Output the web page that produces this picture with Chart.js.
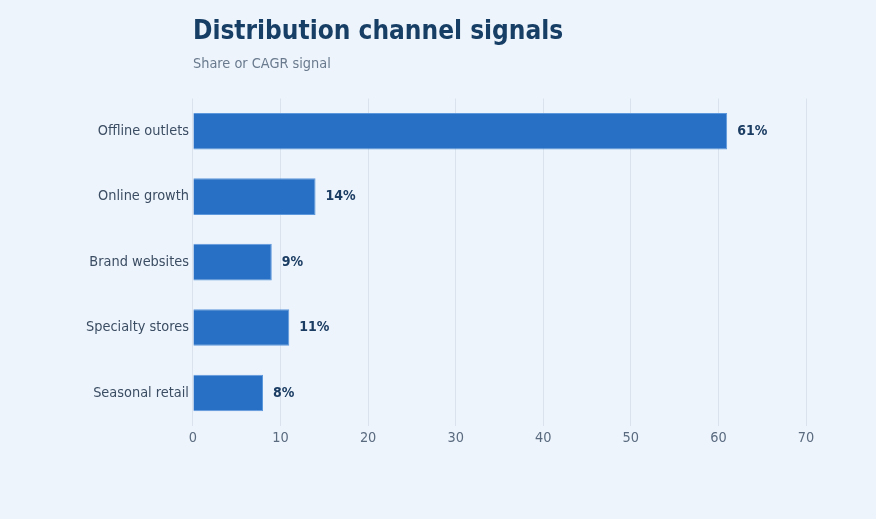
<!DOCTYPE html>
<html lang="en">
    <head>
        <meta charset="UTF-8">
        <title>Distribution channel signals</title>
        <script src="https://cdn.jsdelivr.net/npm/chart.js"></script>
        <style>
            body { margin: 0; background: #eef4fb; }
            #wrap { width: 876px; height: 519px; }
        </style>
    </head>
    <body>
        <div id="wrap"><canvas id="channelChart" width="876" height="519"></canvas></div>

        <script>
            const channels = ['Offline outlets', 'Online growth', 'Brand websites', 'Specialty stores', 'Seasonal retail'];
            const shareValues = [61, 14, 9, 11, 8];
            const valueLabels = ['61%', '14%', '9%', '11%', '8%'];

            const FONT = "'DejaVu Sans Condensed', 'DejaVu Sans', sans-serif";

            // value labels at the end of each bar
            const barLabels = {
                id: 'barLabels',
                afterDatasetsDraw(chart) {
                    const ctx = chart.ctx;
                    const meta = chart.getDatasetMeta(0);
                    ctx.save();
                    ctx.font = 'bold 14px ' + FONT;
                    ctx.fillStyle = '#1b3d63';
                    ctx.textAlign = 'left';
                    ctx.textBaseline = 'middle';
                    meta.data.forEach((bar, i) => {
                        ctx.fillText(valueLabels[i], bar.x + 10, bar.y);
                    });
                    ctx.restore();
                }
            };

            const ctx = document.getElementById('channelChart').getContext('2d');

            new Chart(ctx, {
                type: 'bar',
                data: {
                    labels: channels,
                    datasets: [{
                        data: shareValues,
                        backgroundColor: '#2870c5',
                        borderColor: '#5d98dc',
                        borderWidth: 1,
                        barPercentage: 0.56,
                        categoryPercentage: 1
                    }]
                },
                options: {
                    indexAxis: 'y',
                    responsive: false,
                    animation: false,
                    layout: { padding: { top: 17, right: 70, bottom: 68, left: 82 } },
                    plugins: {
                        legend: { display: false },
                        tooltip: { enabled: false },
                        title: {
                            display: true,
                            text: 'Distribution channel signals',
                            align: 'start',
                            fullSize: false,
                            color: '#173f66',
                            font: { family: FONT, size: 26, weight: 'bold' },
                            padding: { top: 0, bottom: 7 }
                        },
                        subtitle: {
                            display: true,
                            text: 'Share or CAGR signal',
                            align: 'start',
                            fullSize: false,
                            color: '#697a8e',
                            font: { family: FONT, size: 14.4 },
                            padding: { top: 0, bottom: 26 }
                        }
                    },
                    scales: {
                        x: {
                            min: 0,
                            max: 70,
                            ticks: { stepSize: 10, color: '#5a6b80', font: { family: FONT, size: 14.4 }, padding: 4 },
                            grid: { color: '#d9e2ed', drawTicks: false },
                            border: { display: false }
                        },
                        y: {
                            ticks: { color: '#3b4d63', font: { family: FONT, size: 14.4 }, padding: 4 },
                            grid: { display: false, drawTicks: false },
                            border: { display: false }
                        }
                    }
                },
                plugins: [barLabels]
            });
        </script>
    </body>
</html>
